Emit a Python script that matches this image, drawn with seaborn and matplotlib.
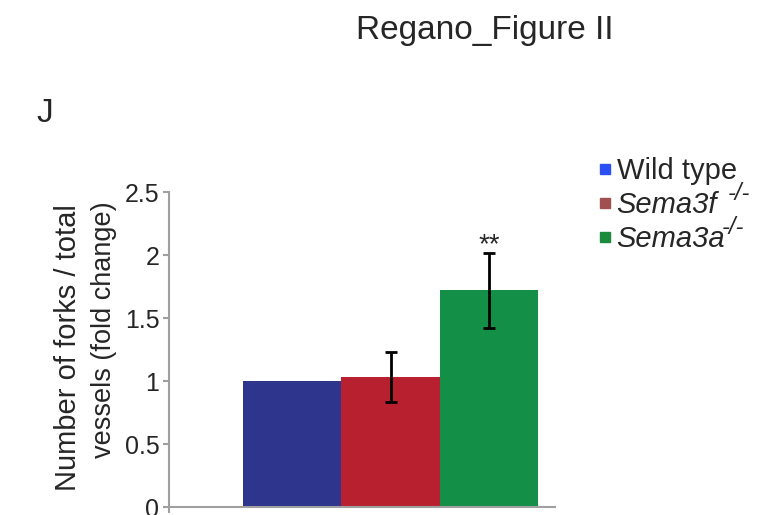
import matplotlib
matplotlib.use("Agg")
import matplotlib.pyplot as plt
import seaborn as sns
import pandas as pd
from matplotlib.lines import Line2D

groups = ["Wild type", "Sema3f -/-", "Sema3a -/-"]
values = [1.0, 1.03, 1.72]
errors = [0.0, 0.20, 0.30]
bar_colors = ["#2e358c", "#b8202f", "#148f47"]
legend_colors = ["#2a4ff5", "#a0504f", "#1a8a3c"]
legend_labels = ["Wild type", "Sema3f", "Sema3a"]
legend_italic = [False, True, True]
legend_sup = ["", "-/-", "-/-"]
sup_gap_px = [0, 11, -3]
yticks = [0, 0.5, 1, 1.5, 2, 2.5]
ytick_labels = ["0", "0.5", "1", "1.5", "2", "2.5"]
ylabel_lines = ["Number of forks / total", "vessels (fold change)"]

sns.set_style("white")
plt.rcParams["font.family"] = ["Liberation Sans", "DejaVu Sans"]

df = pd.DataFrame({"group": groups, "value": values})

fig = plt.figure(figsize=(7.7, 5.15), dpi=100)
ax = fig.add_axes([0.2195, 0.0155, 0.5013, 0.6115])

sns.barplot(data=df, x="group", y="value", hue="group", palette=bar_colors,
            width=1.0, saturation=1, legend=False, ax=ax, errorbar=None,
            linewidth=0)
for i, (v, e) in enumerate(zip(values, errors)):
    if e > 0:
        ax.errorbar(i, v, yerr=e, color="black", lw=2, capsize=4.5, capthick=2)

ax.text(2, 2.185, "**", ha="center", va="top", fontsize=20)

ax.set_xlim(-1.255, 2.673)
ax.set_ylim(0, 2.5)
ax.set_yticks(yticks)
ax.set_yticklabels(ytick_labels, fontsize=18)
ax.set_xticks([-1.255])
ax.set_xticklabels([""])
ax.set_xlabel("")
ax.set_ylabel("")
for side in ["top", "right"]:
    ax.spines[side].set_visible(False)
for side in ["left", "bottom"]:
    ax.spines[side].set_color("#a0a0a0")
    ax.spines[side].set_linewidth(1.5)
ax.tick_params(axis="y", direction="out", length=4, width=1.5, color="#a0a0a0", pad=3, left=True)
ax.tick_params(axis="x", direction="out", length=4, width=1.5, color="#a0a0a0", bottom=True)

# two-line y label, placed like the reference
fig.text(68 / 770, 1 - 347.5 / 515, ylabel_lines[0], rotation=90, ha="center", va="center",
         fontsize=21)
fig.text(104 / 770, 1 - 330 / 515, ylabel_lines[1], rotation=90, ha="center", va="center",
         fontsize=19.5)

handles = [Line2D([], [], marker="s", linestyle="none", markersize=6.5,
                  markerfacecolor=c, markeredgecolor=c) for c in legend_colors]
leg = fig.legend(handles, legend_labels, loc="upper left", bbox_to_anchor=(0.759, 0.717),
                 frameon=False, fontsize=21, handletextpad=0.1, labelspacing=0.2,
                 handlelength=0.6, borderaxespad=0)
for t, it in zip(leg.get_texts(), legend_italic):
    if it:
        t.set_fontstyle("italic")

# superscripts after the legend labels
fig.canvas.draw()
renderer = fig.canvas.get_renderer()
W, H = fig.canvas.get_width_height()
for t, sup, gap in zip(leg.get_texts(), legend_sup, sup_gap_px):
    if not sup:
        continue
    bb = t.get_window_extent(renderer)
    _, _, d = renderer.get_text_width_height_descent("lp", t.get_fontproperties(), ismath=False)
    baseline = bb.y0 + d
    fig.text((bb.x1 + gap) / W, (baseline + 13) / H, sup, ha="left", va="baseline",
             fontsize=17, fontstyle="italic")

fig.text(0.630, 0.94, "Regano_Figure II", ha="center", va="center", fontsize=24)
fig.text(0.047, 0.78, "J", ha="left", va="center", fontsize=24)

fig.savefig("out.png", dpi=100)
